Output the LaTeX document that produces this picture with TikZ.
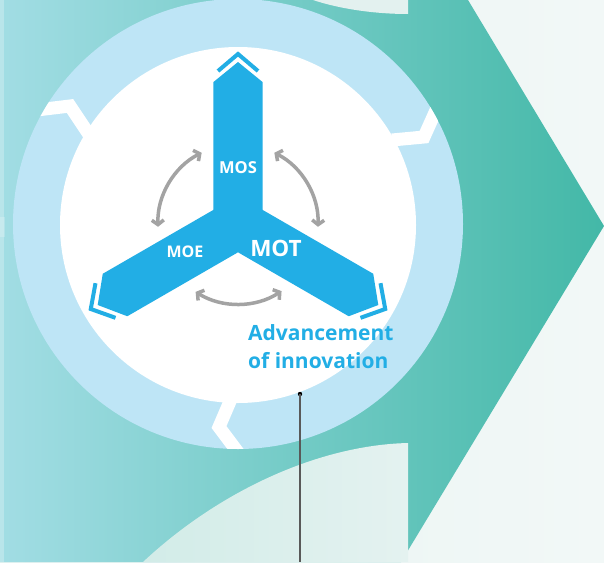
\documentclass[tikz,border=0pt]{standalone}
\usepackage{fontspec}
\setsansfont{Open Sans}
\usetikzlibrary{arrows.meta,positioning}
\definecolor{armblue}{HTML}{22AEE5}
\definecolor{ringblue}{HTML}{BEE5F6}
\definecolor{swapgray}{HTML}{A3A3A3}
\definecolor{paletop}{HTML}{E3F1EF}
\definecolor{bgleft}{HTML}{E6F3F1}
\definecolor{bgright}{HTML}{F2F8F7}
\definecolor{tealleft}{HTML}{A2DDE4}
\definecolor{tealmid}{HTML}{80CDD9}
\definecolor{tealright}{HTML}{43B8A7}
\definecolor{lowleft}{HTML}{D2ECE8}
\definecolor{lowright}{HTML}{E4F2F0}
\tikzset{
  arm/.style={fill=armblue},
  chevron/.style={draw=armblue, line width=4pt, miter limit=10},
  swap/.style={draw=swapgray, line width=3.5pt, line cap=round,
    {Straight Barb[length=4.5pt,width=12pt]}-{Straight Barb[length=4.5pt,width=12pt]}},
  cut/.style={draw=white, line width=13pt, miter limit=10},
  armtext/.style={text=white, font=\sffamily\bfseries\fontsize{#1}{#1}\selectfont, inner sep=0pt},
}

\begin{document}
\begin{tikzpicture}[x=1pt,y=-1pt]
  \useasboundingbox (0,0) rectangle (604,562);
  \shade[left color=bgleft, right color=bgright] (0,0) rectangle (604,562);
  \shade[left color=tealleft, middle color=tealmid, right color=tealright]
    (0,0) -- (468,0) -- (604,226) -- (401,562) -- (0,562) -- cycle;
  \fill[white, opacity=0.25] (0,0) rectangle (4,562);
  \fill[white, opacity=0.2] (0,217) rectangle (5,237);
  \fill[paletop] (313,0) .. controls (340,9) and (375,14) .. (408,14) -- (408,0) -- cycle;
  \shade[left color=lowleft, right color=lowright]
    (143,562) .. controls (220,490) and (320,445) .. (408,443) -- (408,562) -- cycle;

  \coordinate (hub) at (238,224);
  \fill[ringblue] (hub) circle (225);
  \fill[white] (238,225) circle (178);
  \begin{scope}
    \clip (hub) circle (225);
    \draw[cut] (20,112) -- (70,106) -- (90,136);
    \draw[cut] (392,140) -- (424,137) -- (446,88);
    \draw[cut] (234,392) -- (219,427) -- (246,463);
  \end{scope}

  \begin{scope}[shift={(hub)}]
    \fill[arm] (210:28.3) -- (260.2:144.1) -- (270:162) -- (279.8:144.1)
      -- (330:28.3) -- (20.2:144.1) -- (30:162) -- (39.8:144.1)
      -- (90:28.3) -- (140.2:144.1) -- (150:162) -- (159.8:144.1) -- cycle;
  \end{scope}
  \foreach \a in {0,120,240} {
    \draw[chevron, shift={(hub)}, rotate=\a] (-20,-153) -- (0,-170) -- (20,-153);
  }

  \path (hub) ++(178:80) coordinate (ml1);
  \path (hub) ++(297:80) coordinate (mr1);
  \path (hub) ++(122:80) coordinate (mb1);
  \draw[swap] (ml1) arc[start angle=178, end angle=243, radius=80];
  \draw[swap] (mr1) arc[start angle=297, end angle=362, radius=80];
  \draw[swap] (mb1) arc[start angle=122, end angle=57, radius=80];

  \node[armtext=16.5] (mos) at (238,168) {MOS};
  \node[armtext=16] (moe) at (185,252) {MOE};
  \node[armtext=22.5] (mot) at (276,248) {MOT};
  \node[anchor=north west, inner sep=0pt, align=left, text=armblue,
    font=\sffamily\bfseries\fontsize{21}{28}\selectfont] (adv) at (248,324)
    {Advancement\\of innovation};

  \coordinate (dot) at (300,394);
  \coordinate (foot) at (300,562);
  \fill[black] (dot) circle (2.2);
  \draw[line width=1.3pt, draw=black!65] (dot) -- (foot);
\end{tikzpicture}
\end{document}
